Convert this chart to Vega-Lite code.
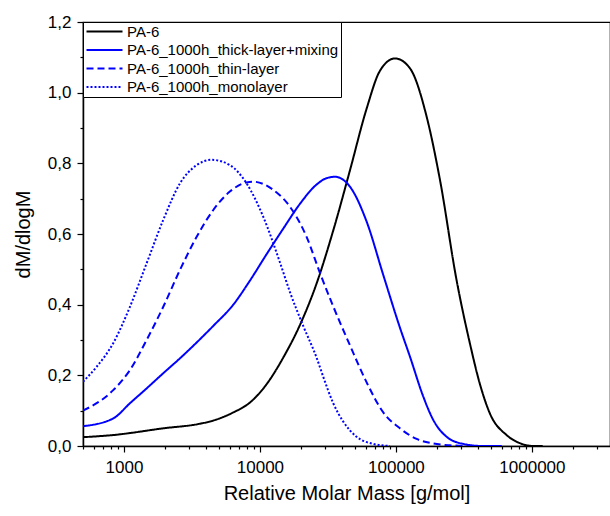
{
  "$schema": "https://vega.github.io/schema/vega-lite/v6.json",
  "autosize": "none",
  "padding": {"left": 83, "top": 22, "right": 0, "bottom": 70},
  "width": 527,
  "height": 424,
  "background": "white",
  "config": {
    "font": "Liberation Sans",
    "view": {"stroke": "black", "strokeWidth": 1.2},
    "axis": {"grid": false, "domainColor": "black", "domainWidth": 1.5, "tickColor": "black", "tickWidth": 1.2, "labelColor": "black", "titleColor": "black", "labelFont": "Liberation Sans", "titleFont": "Liberation Sans", "titleFontWeight": "normal"}
  },
  "data": {"values": [
    {"s": "PA-6", "M": 500, "v": 0.025},
    {"s": "PA-6", "M": 834, "v": 0.031},
    {"s": "PA-6", "M": 1946, "v": 0.05},
    {"s": "PA-6", "M": 3620, "v": 0.063},
    {"s": "PA-6", "M": 4540, "v": 0.072},
    {"s": "PA-6", "M": 6370, "v": 0.095},
    {"s": "PA-6", "M": 8440, "v": 0.123},
    {"s": "PA-6", "M": 11200, "v": 0.175},
    {"s": "PA-6", "M": 14830, "v": 0.25},
    {"s": "PA-6", "M": 19660, "v": 0.342},
    {"s": "PA-6", "M": 26100, "v": 0.46},
    {"s": "PA-6", "M": 34600, "v": 0.61},
    {"s": "PA-6", "M": 45900, "v": 0.78},
    {"s": "PA-6", "M": 60900, "v": 0.955},
    {"s": "PA-6", "M": 76300, "v": 1.062},
    {"s": "PA-6", "M": 98400, "v": 1.097},
    {"s": "PA-6", "M": 126800, "v": 1.069},
    {"s": "PA-6", "M": 168200, "v": 0.932},
    {"s": "PA-6", "M": 210800, "v": 0.753},
    {"s": "PA-6", "M": 279000, "v": 0.47},
    {"s": "PA-6", "M": 350000, "v": 0.29},
    {"s": "PA-6", "M": 414700, "v": 0.175},
    {"s": "PA-6", "M": 491000, "v": 0.092},
    {"s": "PA-6", "M": 651000, "v": 0.031},
    {"s": "PA-6", "M": 816000, "v": 0.008},
    {"s": "PA-6", "M": 1016000, "v": 0.0},
    {"s": "PA-6", "M": 1200000, "v": 0.0},
    {"s": "PA-6_1000h_thick-layer+mixing", "M": 500, "v": 0.056},
    {"s": "PA-6_1000h_thick-layer+mixing", "M": 834, "v": 0.078},
    {"s": "PA-6_1000h_thick-layer+mixing", "M": 1107, "v": 0.121},
    {"s": "PA-6_1000h_thick-layer+mixing", "M": 1468, "v": 0.163},
    {"s": "PA-6_1000h_thick-layer+mixing", "M": 1946, "v": 0.206},
    {"s": "PA-6_1000h_thick-layer+mixing", "M": 2580, "v": 0.248},
    {"s": "PA-6_1000h_thick-layer+mixing", "M": 3620, "v": 0.302},
    {"s": "PA-6_1000h_thick-layer+mixing", "M": 4540, "v": 0.34},
    {"s": "PA-6_1000h_thick-layer+mixing", "M": 6370, "v": 0.4},
    {"s": "PA-6_1000h_thick-layer+mixing", "M": 8440, "v": 0.468},
    {"s": "PA-6_1000h_thick-layer+mixing", "M": 11200, "v": 0.543},
    {"s": "PA-6_1000h_thick-layer+mixing", "M": 14830, "v": 0.615},
    {"s": "PA-6_1000h_thick-layer+mixing", "M": 19660, "v": 0.685},
    {"s": "PA-6_1000h_thick-layer+mixing", "M": 26100, "v": 0.74},
    {"s": "PA-6_1000h_thick-layer+mixing", "M": 30900, "v": 0.758},
    {"s": "PA-6_1000h_thick-layer+mixing", "M": 35600, "v": 0.762},
    {"s": "PA-6_1000h_thick-layer+mixing", "M": 45900, "v": 0.734},
    {"s": "PA-6_1000h_thick-layer+mixing", "M": 60900, "v": 0.635},
    {"s": "PA-6_1000h_thick-layer+mixing", "M": 80700, "v": 0.484},
    {"s": "PA-6_1000h_thick-layer+mixing", "M": 107000, "v": 0.335},
    {"s": "PA-6_1000h_thick-layer+mixing", "M": 126800, "v": 0.253},
    {"s": "PA-6_1000h_thick-layer+mixing", "M": 158800, "v": 0.14},
    {"s": "PA-6_1000h_thick-layer+mixing", "M": 188000, "v": 0.074},
    {"s": "PA-6_1000h_thick-layer+mixing", "M": 236000, "v": 0.026},
    {"s": "PA-6_1000h_thick-layer+mixing", "M": 312600, "v": 0.006},
    {"s": "PA-6_1000h_thick-layer+mixing", "M": 437000, "v": 0.0},
    {"s": "PA-6_1000h_thick-layer+mixing", "M": 600000, "v": 0.0},
    {"s": "PA-6_1000h_thin-layer", "M": 500, "v": 0.1},
    {"s": "PA-6_1000h_thin-layer", "M": 834, "v": 0.158},
    {"s": "PA-6_1000h_thin-layer", "M": 1107, "v": 0.215},
    {"s": "PA-6_1000h_thin-layer", "M": 1468, "v": 0.3},
    {"s": "PA-6_1000h_thin-layer", "M": 1946, "v": 0.394},
    {"s": "PA-6_1000h_thin-layer", "M": 2580, "v": 0.498},
    {"s": "PA-6_1000h_thin-layer", "M": 3426, "v": 0.592},
    {"s": "PA-6_1000h_thin-layer", "M": 4540, "v": 0.668},
    {"s": "PA-6_1000h_thin-layer", "M": 6010, "v": 0.72},
    {"s": "PA-6_1000h_thin-layer", "M": 7980, "v": 0.746},
    {"s": "PA-6_1000h_thin-layer", "M": 8930, "v": 0.748},
    {"s": "PA-6_1000h_thin-layer", "M": 12530, "v": 0.725},
    {"s": "PA-6_1000h_thin-layer", "M": 16640, "v": 0.677},
    {"s": "PA-6_1000h_thin-layer", "M": 22030, "v": 0.592},
    {"s": "PA-6_1000h_thin-layer", "M": 27600, "v": 0.49},
    {"s": "PA-6_1000h_thin-layer", "M": 34600, "v": 0.395},
    {"s": "PA-6_1000h_thin-layer", "M": 45900, "v": 0.285},
    {"s": "PA-6_1000h_thin-layer", "M": 60900, "v": 0.18},
    {"s": "PA-6_1000h_thin-layer", "M": 80700, "v": 0.095},
    {"s": "PA-6_1000h_thin-layer", "M": 107000, "v": 0.05},
    {"s": "PA-6_1000h_thin-layer", "M": 141900, "v": 0.02},
    {"s": "PA-6_1000h_thin-layer", "M": 188000, "v": 0.007},
    {"s": "PA-6_1000h_thin-layer", "M": 249400, "v": 0.002},
    {"s": "PA-6_1000h_thin-layer", "M": 350000, "v": 0.0},
    {"s": "PA-6_1000h_monolayer", "M": 500, "v": 0.182},
    {"s": "PA-6_1000h_monolayer", "M": 629, "v": 0.224},
    {"s": "PA-6_1000h_monolayer", "M": 834, "v": 0.291},
    {"s": "PA-6_1000h_monolayer", "M": 1107, "v": 0.394},
    {"s": "PA-6_1000h_monolayer", "M": 1468, "v": 0.517},
    {"s": "PA-6_1000h_monolayer", "M": 1946, "v": 0.64},
    {"s": "PA-6_1000h_monolayer", "M": 2580, "v": 0.743},
    {"s": "PA-6_1000h_monolayer", "M": 3426, "v": 0.795},
    {"s": "PA-6_1000h_monolayer", "M": 4415, "v": 0.81},
    {"s": "PA-6_1000h_monolayer", "M": 6010, "v": 0.795},
    {"s": "PA-6_1000h_monolayer", "M": 7980, "v": 0.743},
    {"s": "PA-6_1000h_monolayer", "M": 10570, "v": 0.649},
    {"s": "PA-6_1000h_monolayer", "M": 14020, "v": 0.52},
    {"s": "PA-6_1000h_monolayer", "M": 16640, "v": 0.435},
    {"s": "PA-6_1000h_monolayer", "M": 20800, "v": 0.34},
    {"s": "PA-6_1000h_monolayer", "M": 26100, "v": 0.25},
    {"s": "PA-6_1000h_monolayer", "M": 29200, "v": 0.196},
    {"s": "PA-6_1000h_monolayer", "M": 34600, "v": 0.121},
    {"s": "PA-6_1000h_monolayer", "M": 41000, "v": 0.069},
    {"s": "PA-6_1000h_monolayer", "M": 51400, "v": 0.026},
    {"s": "PA-6_1000h_monolayer", "M": 68100, "v": 0.006},
    {"s": "PA-6_1000h_monolayer", "M": 90300, "v": 0.0}
  ]},
  "mark": {"type": "line", "strokeWidth": 2, "interpolate": "monotone", "clip": true},
  "encoding": {
    "x": {
      "field": "M", "type": "quantitative",
      "scale": {"type": "log", "domain": [500, 3750000], "nice": false},
      "axis": {
        "title": "Relative Molar Mass [g/mol]",
        "titleFontSize": 20, "titlePadding": 8,
        "values": [500,600,700,800,900,1000,2000,3000,4000,5000,6000,7000,8000,9000,10000,20000,30000,40000,50000,60000,70000,80000,90000,100000,200000,300000,400000,500000,600000,700000,800000,900000,1000000,2000000,3000000],
        "labelExpr": "abs(log(datum.value)/LN10 - round(log(datum.value)/LN10)) < 0.001 && datum.value >= 1000 ? format(datum.value, 'd') : ''",
        "labelFontSize": 17, "labelPadding": 7, "labelOverlap": false, "labelFlush": false,
        "tickSize": {"condition": {"test": "abs(log(datum.value)/LN10 - round(log(datum.value)/LN10)) < 0.001", "value": 6}, "value": 3}
      }
    },
    "y": {
      "field": "v", "type": "quantitative",
      "scale": {"domain": [0, 1.2], "nice": false},
      "axis": {
        "title": "dM/dlogM",
        "titleFontSize": 20, "titlePadding": 14,
        "values": [0,0.1,0.2,0.3,0.4,0.5,0.6,0.7,0.8,0.9,1.0,1.1,1.2],
        "labelExpr": "round(datum.value*10) % 2 == 0 ? replace(format(datum.value, '.1f'), '.', ',') : ''",
        "labelFontSize": 17, "labelPadding": 6, "labelOverlap": false, "labelFlush": false,
        "tickSize": {"condition": {"test": "round(datum.value*10) % 2 == 0", "value": 6}, "value": 3}
      }
    },
    "color": {
      "field": "s", "type": "nominal",
      "scale": {"domain": ["PA-6", "PA-6_1000h_thick-layer+mixing", "PA-6_1000h_thin-layer", "PA-6_1000h_monolayer"], "range": ["#000000", "#0000ff", "#0000ff", "#0000ff"]},
      "legend": {
        "title": null, "orient": "top-left", "offset": 0,
        "strokeColor": "black", "fillColor": "white", "padding": 2,
        "labelFontSize": 15, "labelColor": "black", "labelLimit": 400, "labelOffset": 27,
        "symbolType": "M-1,0H5", "symbolSize": 144, "symbolStrokeWidth": 2.2, "rowPadding": 2.5
      }
    },
    "strokeDash": {
      "field": "s", "type": "nominal",
      "scale": {"domain": ["PA-6", "PA-6_1000h_thick-layer+mixing", "PA-6_1000h_thin-layer", "PA-6_1000h_monolayer"], "range": [[1,0],[1,0],[7,4],[2,2]]},
      "legend": null
    }
  }
}
